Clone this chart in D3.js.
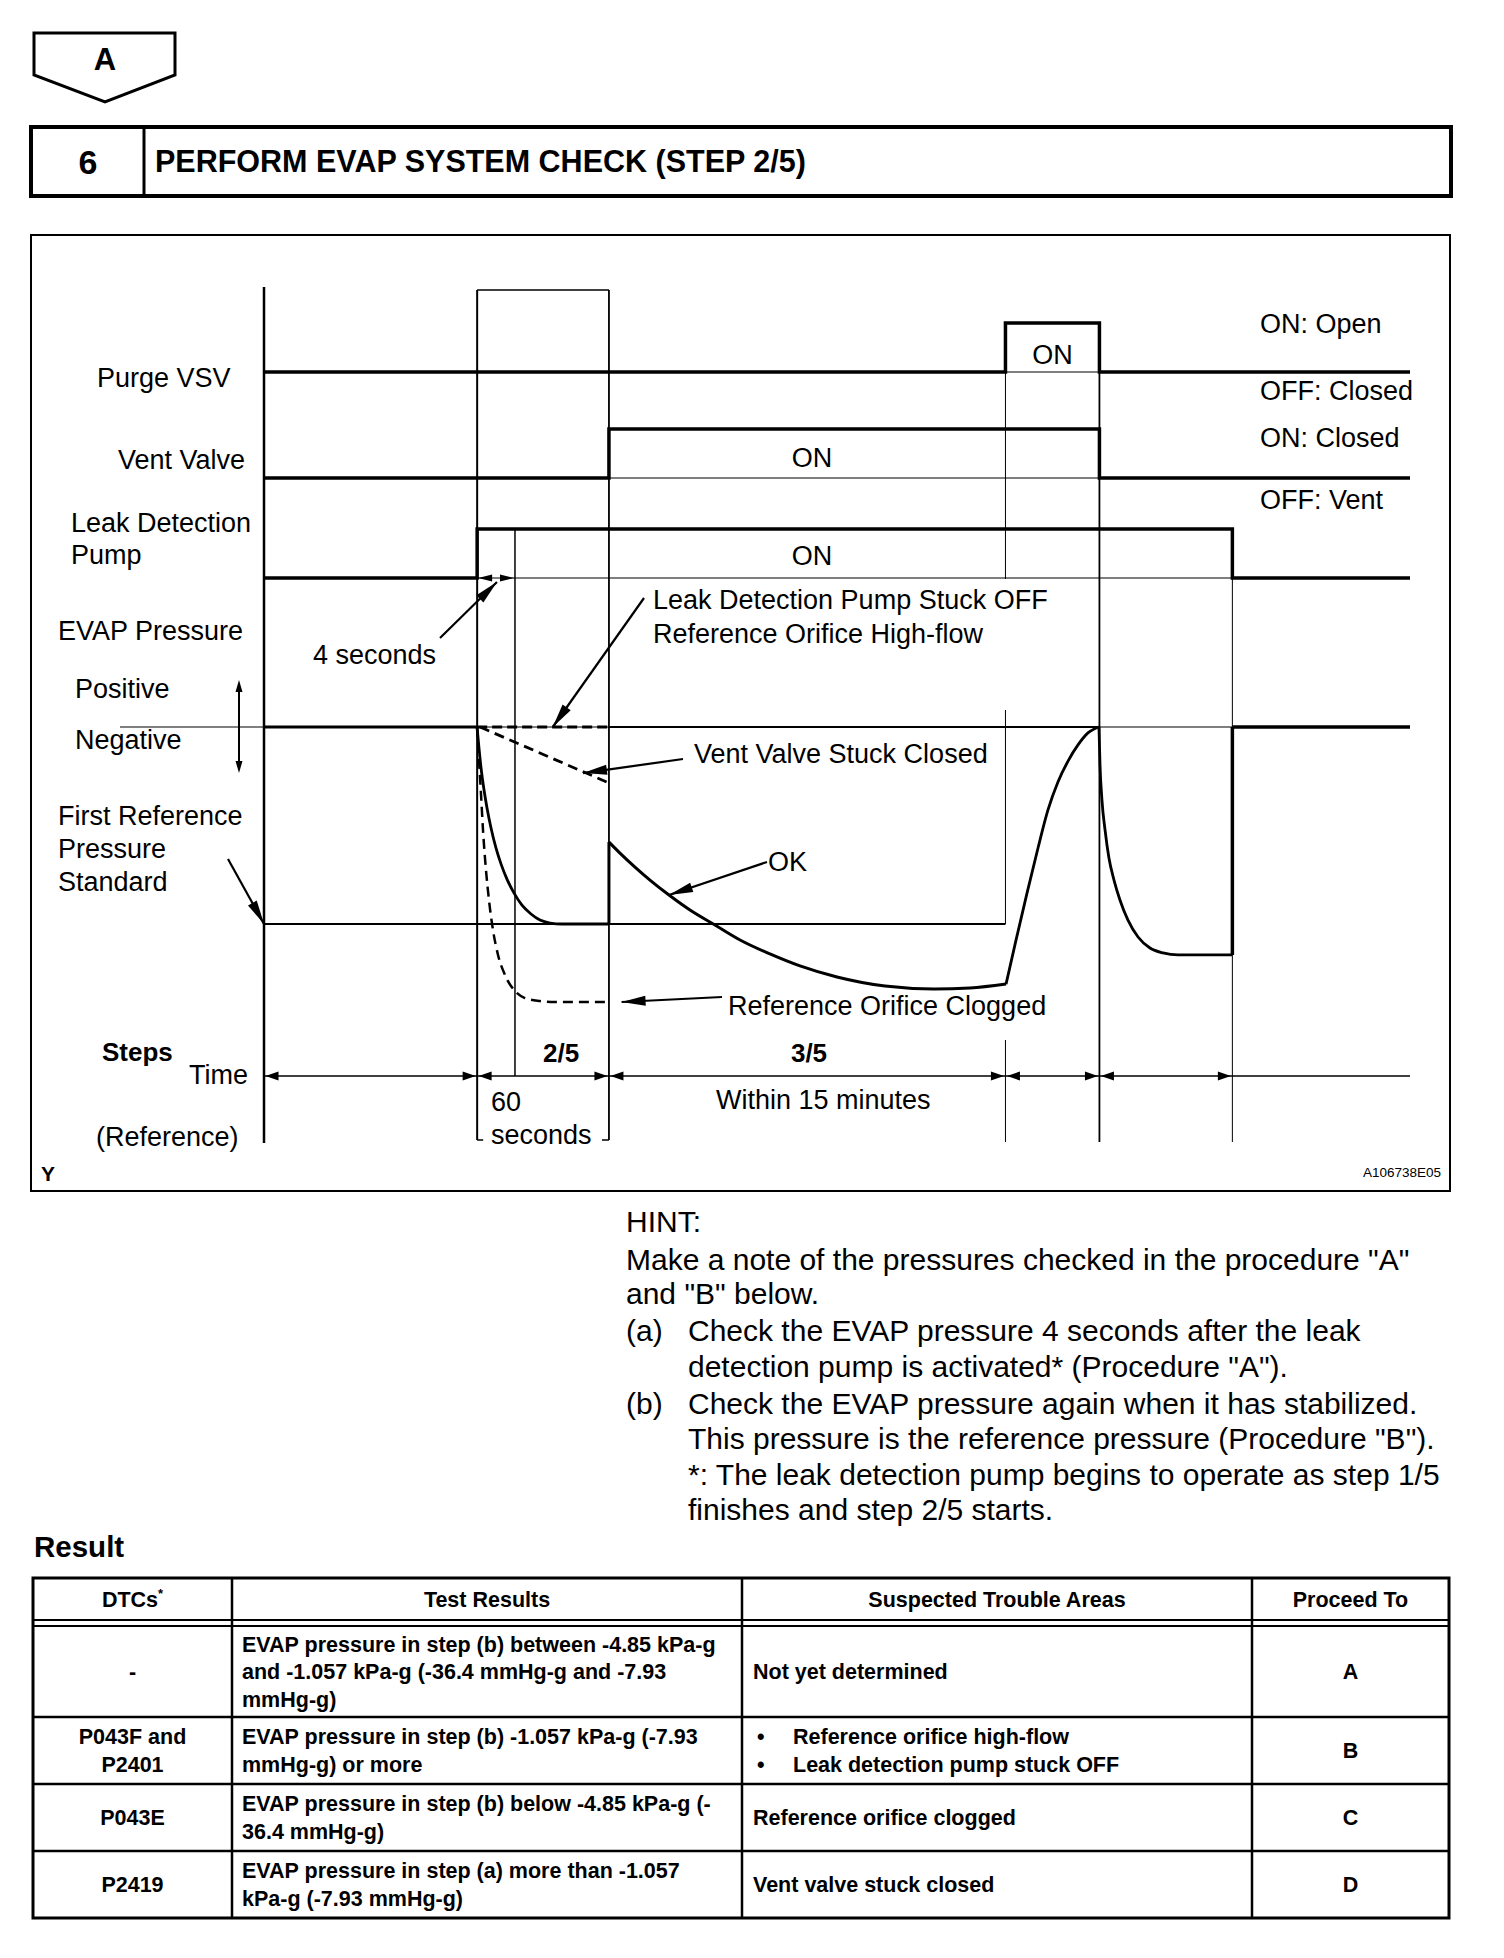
<!DOCTYPE html>
<html lang="en">
<head>
<meta charset="utf-8">
<title>EVAP System Check 2/5</title>
<script src="https://d3js.org/d3.v7.min.js"></script>
<style>
  body { margin: 0; background: #fff; }
  svg text { font-family: "Liberation Sans", Arial, sans-serif; fill: #000; }
  .lbl { font-size: 27px; }
  .hint { font-size: 30px; }
  .tbl { font-size: 21.5px; font-weight: bold; }
</style>
</head>
<body>
<div id="chart"></div>
<script>

// ---- data ----
var eventNames = ["start", "pumpOn", "fourSec", "ventOn", "purgeOn", "purgeOff", "pumpOff", "end"];
var eventTimes = [0, 18.6, 21.9, 30.1, 64.7, 72.9, 84.5, 100];

var signals = ["Purge VSV", "Vent Valve", "Leak Detection Pump"];
var purgeTimes = [0, 64.7, 72.9, 100];
var purgeStates = [0, 1, 0, 0];
var ventTimes = [0, 30.1, 72.9, 100];
var ventStates = [0, 1, 0, 0];
var pumpTimes = [0, 18.6, 84.5, 100];
var pumpStates = [0, 1, 0, 0];

// EVAP pressure, relative to first reference pressure (-1)
var okDropT = [18.59, 18.76, 18.94, 19.20, 19.46, 19.81, 20.24, 20.68, 21.20, 21.82, 22.51, 23.30, 24.08, 24.96, 26.0, 30.1];
var okDropP = [0, -0.107, -0.208, -0.320, -0.411, -0.513, -0.614, -0.695, -0.772, -0.843, -0.904, -0.949, -0.980, -0.995, -1, -1];
var okDecayT = [30.10, 31.06, 32.37, 33.68, 35.34, 37.17, 39.35, 41.54, 44.15, 46.77, 50.00, 54.19, 58.46, 61.61, 64.75];
var okDecayP = [-0.584, -0.640, -0.711, -0.777, -0.853, -0.929, -1.005, -1.081, -1.152, -1.213, -1.269, -1.315, -1.330, -1.325, -1.305];
var okRiseT = [64.75, 65.62, 66.58, 67.54, 68.41, 69.28, 70.16, 71.03, 71.90, 72.86];
var okRiseP = [-1.305, -1.082, -0.843, -0.614, -0.421, -0.279, -0.173, -0.091, -0.030, 0];
var okFallT = [72.86, 72.95, 73.12, 73.39, 73.73, 74.17, 74.69, 75.39, 76.27, 77.31, 78.45, 79.76, 84.47];
var okFallP = [0, -0.193, -0.371, -0.523, -0.665, -0.777, -0.878, -0.980, -1.066, -1.122, -1.147, -1.157, -1.157];

var cloggedT = [18.59, 18.76, 18.94, 19.11, 19.37, 19.63, 19.98, 20.42, 21.03, 21.82, 22.77, 24.08, 25.39, 30.02];
var cloggedP = [0, -0.168, -0.345, -0.523, -0.726, -0.878, -1.030, -1.157, -1.259, -1.335, -1.376, -1.391, -1.396, -1.396];
var ventStuckT = [18.85, 30.1];
var ventStuckP = [0, -0.284];
var pumpStuckT = [18.6, 30.1];
var pumpStuckP = [0, 0];
var referenceP = -1;

var stepLabels = ["2/5", "3/5"];
var rightLabels = ["ON: Open", "OFF: Closed", "ON: Closed", "OFF: Vent"];

var hintLines = [
  ["", "HINT:"],
  ["", "Make a note of the pressures checked in the procedure \"A\""],
  ["", "and \"B\" below."],
  ["(a)", "Check the EVAP pressure 4 seconds after the leak"],
  ["", "detection pump is activated* (Procedure \"A\")."],
  ["(b)", "Check the EVAP pressure again when it has stabilized."],
  ["", "This pressure is the reference pressure (Procedure \"B\")."],
  ["", "*: The leak detection pump begins to operate as step 1/5"],
  ["", "finishes and step 2/5 starts."]
];

var tableHeaders = ["DTCs", "Test Results", "Suspected Trouble Areas", "Proceed To"];
var dtcs = [["-"], ["P043F and", "P2401"], ["P043E"], ["P2419"]];
var testResults = [
  ["EVAP pressure in step (b) between -4.85 kPa-g", "and -1.057 kPa-g (-36.4 mmHg-g and -7.93", "mmHg-g)"],
  ["EVAP pressure in step (b) -1.057 kPa-g (-7.93", "mmHg-g) or more"],
  ["EVAP pressure in step (b) below -4.85 kPa-g (-", "36.4 mmHg-g)"],
  ["EVAP pressure in step (a) more than -1.057", "kPa-g (-7.93 mmHg-g)"]
];
var troubleAreas = [["Not yet determined"], ["\u2022Reference orifice high-flow", "\u2022Leak detection pump stuck OFF"], ["Reference orifice clogged"], ["Vent valve stuck closed"]];
var proceedTo = ["A", "B", "C", "D"];

// ---- setup ----
var W = 1504, H = 1958;
var svg = d3.select("#chart").append("svg").attr("width", W).attr("height", H);
svg.append("rect").attr("width", W).attr("height", H).attr("fill", "#fff");

var ev = {};
eventNames.forEach(function(n, i) { ev[n] = eventTimes[i]; });

var x = d3.scaleLinear().domain([0, 100]).range([264, 1410]);
var y = d3.scaleLinear().domain([0, -1]).range([727, 924]);
var sigY = d3.scaleOrdinal().domain(signals).range([372, 478, 578]);
var sigAmp = 49;

function seg(x1, y1, x2, y2, w) {
  svg.append("line").attr("x1", x1).attr("y1", y1).attr("x2", x2).attr("y2", y2)
     .attr("stroke", "#000").attr("stroke-width", w);
}
function tri(tx, ty, dx, dy, len, half) {
  // arrowhead with tip at (tx,ty) pointing along (dx,dy)
  var l = Math.sqrt(dx * dx + dy * dy); dx /= l; dy /= l;
  var bx = tx - dx * len, by = ty - dy * len;
  svg.append("path")
     .attr("d", "M" + tx + "," + ty + "L" + (bx - dy * half) + "," + (by + dx * half) +
                "L" + (bx + dy * half) + "," + (by - dx * half) + "Z")
     .attr("fill", "#000");
}
function pointer(x1, y1, x2, y2) {
  seg(x1, y1, x2, y2, 2.2);
  tri(x2, y2, x2 - x1, y2 - y1, 24, 5);
}
function text(t, tx, ty, cls, anchor, weight) {
  return svg.append("text").attr("x", tx).attr("y", ty).attr("class", cls || "lbl")
     .attr("text-anchor", anchor || "start").attr("font-weight", weight || "normal").text(t);
}

// ---- page header ----
svg.append("path").attr("d", "M34,33H175V75L105,102L34,75Z")
   .attr("fill", "none").attr("stroke", "#000").attr("stroke-width", 3);
text("A", 105, 70, "lbl", "middle", "bold").style("font-size", "31px");

svg.append("rect").attr("x", 31).attr("y", 127).attr("width", 1420).attr("height", 69)
   .attr("fill", "none").attr("stroke", "#000").attr("stroke-width", 4);
seg(144, 127, 144, 196, 3);
text("6", 88, 174, "lbl", "middle", "bold").style("font-size", "34px");
text("PERFORM EVAP SYSTEM CHECK (STEP 2/5)", 155, 172, "lbl", "start", "bold").style("font-size", "30.5px");

// ---- diagram frame ----
svg.append("rect").attr("x", 31).attr("y", 235).attr("width", 1419).attr("height", 956)
   .attr("fill", "none").attr("stroke", "#000").attr("stroke-width", 2);

// event grid lines
seg(x(0), 287, x(0), 1143, 2.5);
seg(x(ev.pumpOn), 290, x(ev.pumpOn), 1140, 2);
seg(x(ev.pumpOn), 1140, x(ev.pumpOn) + 6, 1140, 1.5);
seg(x(ev.ventOn), 290, x(ev.ventOn), 1140, 1.8);
seg(x(ev.ventOn) - 7, 1140, x(ev.ventOn), 1140, 1.5);
seg(x(ev.pumpOn), 290, x(ev.ventOn), 290, 1.5);
seg(x(ev.fourSec), sigY(signals[2]) - sigAmp, x(ev.fourSec), 1076, 1.5);
seg(x(ev.purgeOn), sigY(signals[0]) - sigAmp, x(ev.purgeOn), 579, 1);
seg(x(ev.purgeOn), 710, x(ev.purgeOn), y(referenceP), 1);
seg(x(ev.purgeOn), 1040, x(ev.purgeOn), 1142, 1);
seg(x(ev.purgeOff), sigY(signals[0]) - sigAmp, x(ev.purgeOff), 1142, 1.8);
seg(x(ev.pumpOff), sigY(signals[2]) - sigAmp, x(ev.pumpOff), 1142, 1);

// signal traces
var sigTimes = [purgeTimes, ventTimes, pumpTimes];
var sigStates = [purgeStates, ventStates, pumpStates];
signals.forEach(function(s, k) {
  var pts = sigTimes[k].map(function(t, i) { return [t, sigStates[k][i]]; });
  // thin baseline under ON pulse
  var onIdx = pts.findIndex(function(p) { return p[1] === 1; });
  seg(x(pts[onIdx][0]), sigY(s), x(pts[onIdx + 1][0]), sigY(s), 1.2);
  svg.append("path")
     .attr("d", d3.line().curve(d3.curveStepAfter)
        .x(function(p) { return x(p[0]); })
        .y(function(p) { return sigY(s) - p[1] * sigAmp; })(pts))
     .attr("fill", "none").attr("stroke", "#000").attr("stroke-width", 3.5);
});

// ON texts
text("ON", (x(ev.purgeOn) + x(ev.purgeOff)) / 2, 364, "lbl", "middle");
text("ON", 812, 467, "lbl", "middle");
text("ON", 812, 565, "lbl", "middle");
[333, 400, 447, 509].forEach(function(by, i) { text(rightLabels[i], 1260, by); });

// 4 seconds dimension on pump line
tri(x(ev.pumpOn) + 1, sigY(signals[2]), -1, 0, 14, 3.5);
tri(x(ev.fourSec) - 1, sigY(signals[2]), 1, 0, 14, 3.5);

// pressure axis lines
seg(120, y(0), x(0), y(0), 1.2);
seg(x(0), y(0), x(ev.pumpOn), y(0), 3);
seg(x(ev.pumpOn), y(0), x(ev.ventOn), y(0), 1.2);
seg(x(ev.ventOn), y(0), x(ev.purgeOff), y(0), 2);
seg(x(ev.purgeOff), y(0), x(ev.pumpOff), y(0), 1.2);
seg(x(ev.pumpOff), y(0), x(100), y(0), 3.5);
seg(x(0), y(referenceP), x(ev.purgeOn), y(referenceP), 2);

var line = d3.line().curve(d3.curveMonotoneX)
  .x(function(p) { return x(p[0]); }).y(function(p) { return y(p[1]); });
function zip(ts, ps) { return ts.map(function(t, i) { return [t, ps[i]]; }); }
function curve(ts, ps, w, dash) {
  svg.append("path").attr("d", line(zip(ts, ps))).attr("fill", "none")
     .attr("stroke", "#000").attr("stroke-width", w)
     .attr("stroke-dasharray", dash || null).attr("stroke-linejoin", "round");
}
curve(okDropT, okDropP, 2.8);
seg(x(ev.ventOn), y(-1), x(ev.ventOn), y(okDecayP[0]), 3);
curve(okDecayT, okDecayP, 3);
curve(okRiseT, okRiseP, 2.8);
curve(okFallT, okFallP, 2.8);
seg(x(ev.pumpOff), y(okFallP[okFallP.length - 1]), x(ev.pumpOff), y(0), 3.5);

curve(cloggedT, cloggedP, 2.5, "10,6");
curve(ventStuckT, ventStuckP, 2.8, "10,6");
curve(pumpStuckT, pumpStuckP, 2.8, "10,5");

// left labels
text("Purge VSV", 97, 387);
text("Vent Valve", 118, 469);
text("Leak Detection", 71, 532);
text("Pump", 71, 564);
text("EVAP Pressure", 58, 640);
text("Positive", 75, 698);
text("Negative", 75, 749);
text("First Reference", 58, 825);
text("Pressure", 58, 858);
text("Standard", 58, 891);
text("Steps", 102, 1061, "lbl", "start", "bold").style("font-size", "26px");
text("Time", 189, 1084);
text("(Reference)", 96, 1146);
text("Y", 41, 1181, "lbl", "start", "bold").style("font-size", "21px");
text("A106738E05", 1441, 1177, "lbl", "end").style("font-size", "13.5px");

// positive / negative arrow
seg(239, 690, 239, 763, 2);
tri(239, 680, 0, -1, 12, 3.5);
tri(239, 773, 0, 1, 12, 3.5);

// annotations
text("4 seconds", 313, 664);
pointer(440, 638, x(20.33), sigY(signals[2]) + 4);
text("Leak Detection Pump Stuck OFF", 653, 609);
text("Reference Orifice High-flow", 653, 643);
pointer(644, 598, x(25.2), y(0));
text("Vent Valve Stuck Closed", 694, 763);
pointer(683, 759, x(27.84), y(-0.234));
text("OK", 768, 871);
pointer(767, 862, x(35.34), y(-0.853));
text("Reference Orifice Clogged", 728, 1015);
pointer(722, 997, x(31.2), y(-1.396));
pointer(228, 859, x(0), y(referenceP));

// steps / time row
text(stepLabels[0], (x(ev.pumpOn) + x(ev.ventOn)) / 2 + 18, 1062, "lbl", "middle", "bold").style("font-size", "26px");
text(stepLabels[1], 809, 1062, "lbl", "middle", "bold").style("font-size", "26px");
var tY = 1076;
seg(x(0), tY, x(100), tY, 1.5);
var dims = [[0, ev.pumpOn], [ev.pumpOn, ev.ventOn], [ev.ventOn, ev.purgeOn], [ev.purgeOn, ev.purgeOff], [ev.purgeOff, ev.pumpOff]];
dims.forEach(function(d) {
  tri(x(d[0]) + 1.5, tY, -1, 0, 13, 4.5);
  tri(x(d[1]) - 1.5, tY, 1, 0, 13, 4.5);
});
text("60", 491, 1111);
text("seconds", 491, 1144);
text("Within 15 minutes", 716, 1109);

// ---- hint ----
var hintBase = [1232, 1270, 1304, 1341, 1377, 1414, 1449, 1485, 1520];
hintLines.forEach(function(l, i) {
  var indent = (i >= 3) ? 688 : 626;
  if (l[0]) text(l[0], 626, hintBase[i], "hint");
  text(l[1], indent, hintBase[i], "hint");
});

// ---- result table ----
text("Result", 34, 1557, "hint", "start", "bold").style("font-size", "29.5px");
var colX = [33, 232, 742, 1252, 1449];
var rowY = [1626, 1717, 1784, 1851, 1918];
svg.append("rect").attr("x", colX[0]).attr("y", 1578).attr("width", colX[4] - colX[0]).attr("height", 1918 - 1578)
   .attr("fill", "none").attr("stroke", "#000").attr("stroke-width", 3);
colX.slice(1, 4).forEach(function(cx) { seg(cx, 1578, cx, 1918, 2.5); });
seg(colX[0], 1620, colX[4], 1620, 2.2);
seg(colX[0], 1626, colX[4], 1626, 2.2);
rowY.slice(1, 4).forEach(function(ry) { seg(colX[0], ry, colX[4], ry, 2.5); });

var centers = colX.slice(0, 4).map(function(cx, i) { return (cx + colX[i + 1]) / 2; });
tableHeaders.forEach(function(h, i) {
  var t = text(h, centers[i], 1607, "tbl", "middle", "bold");
  if (i === 0) t.append("tspan").attr("dy", -9).style("font-size", "13px").text("*");
});
var lh = 27.5;
function cellLines(lines, r, cx, anchor) {
  var mid = (rowY[r] + rowY[r + 1]) / 2 + 7.7;
  var top = mid - (lines.length - 1) * lh / 2;
  lines.forEach(function(s, j) {
    if (s.charAt(0) === "\u2022") {
      text("\u2022", 757, top + j * lh, "tbl", "start", "bold");
      text(s.slice(1), 793, top + j * lh, "tbl", "start", "bold");
    } else {
      text(s, cx, top + j * lh, "tbl", anchor, "bold");
    }
  });
}
dtcs.forEach(function(d, r) {
  cellLines(d, r, centers[0], "middle");
  cellLines(testResults[r], r, 242, "start");
  cellLines(troubleAreas[r], r, 753, "start");
  cellLines([proceedTo[r]], r, centers[3], "middle");
});

</script>
</body>
</html>
